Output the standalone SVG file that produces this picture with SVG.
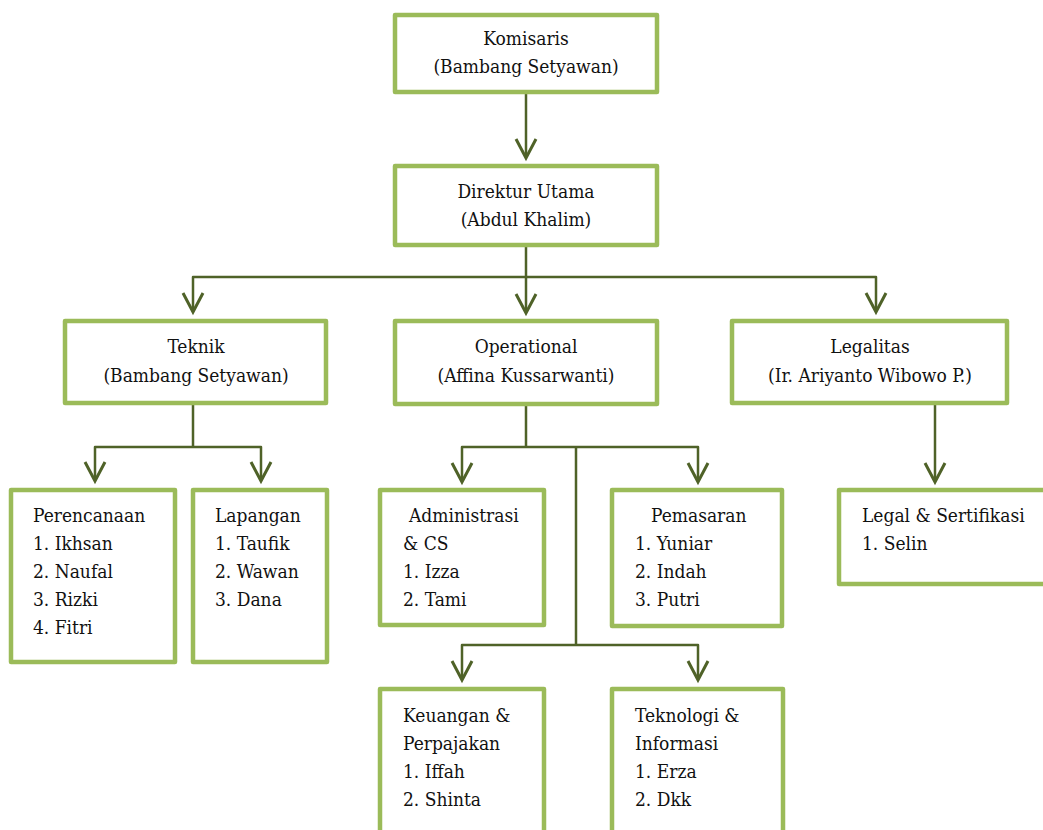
<svg xmlns="http://www.w3.org/2000/svg" width="1043" height="830" viewBox="0 0 1043 830">
<style>
.box{fill:#fff;stroke:#9BBB59;stroke-width:4.5;stroke-linejoin:round}
.con{fill:none;stroke:#4F6228;stroke-width:2.5;stroke-linejoin:round}
.ah{fill:none;stroke:#4F6228;stroke-width:3;stroke-linejoin:miter}
.c{text-anchor:middle}
.t{font-family:'DejaVu Serif Condensed','DejaVu Serif','Liberation Serif',serif;font-stretch:condensed;font-size:19px;fill:#111}
</style>
<rect width="1043" height="830" fill="#fff"/>
<g id="connectors">
<path class="con" d="M526,94V157"/>
<path class="con" d="M526,247V312"/>
<path class="con" d="M193,312V277H876V311"/>
<path class="con" d="M193,405V447M95,480V447H261V480"/>
<path class="con" d="M526,406V447M462,481V447H698V481M576,447V645M462,679V645H698V679"/>
<path class="con" d="M935,405V481"/>
<polyline class="ah" points="516,139 526,158 536,139"/>
<polyline class="ah" points="516,294 526,313 536,294"/>
<polyline class="ah" points="183,293 193,312 203,293"/>
<polyline class="ah" points="866,293 876,312 886,293"/>
<polyline class="ah" points="85,462 95,481 105,462"/>
<polyline class="ah" points="251,462 261,481 271,462"/>
<polyline class="ah" points="452,463 462,482 472,463"/>
<polyline class="ah" points="688,463 698,482 708,463"/>
<polyline class="ah" points="452,661 462,680 472,661"/>
<polyline class="ah" points="688,661 698,680 708,661"/>
<polyline class="ah" points="925,463 935,482 945,463"/>
</g>
<g class="t">
<g id="komisaris">
<rect class="box" x="395" y="15" width="262" height="77"/>
<text class="c" x="526" y="45">Komisaris</text>
<text class="c" x="526" y="73">(Bambang Setyawan)</text>
</g>
<g id="direktur">
<rect class="box" x="395" y="166" width="262" height="79"/>
<text class="c" x="526" y="198">Direktur Utama</text>
<text class="c" x="526" y="226">(Abdul Khalim)</text>
</g>
<g id="teknik">
<rect class="box" x="65" y="321" width="261" height="82"/>
<text class="c" x="196" y="353">Teknik</text>
<text class="c" x="196" y="382">(Bambang Setyawan)</text>
</g>
<g id="operational">
<rect class="box" x="395" y="321" width="262" height="83"/>
<text class="c" x="526" y="353">Operational</text>
<text class="c" x="526" y="382">(Affina Kussarwanti)</text>
</g>
<g id="legalitas">
<rect class="box" x="732" y="321" width="275" height="82"/>
<text class="c" x="870" y="353">Legalitas</text>
<text class="c" x="870" y="382">(Ir. Ariyanto Wibowo P.)</text>
</g>
<g id="perencanaan">
<rect class="box" x="11" y="490" width="164" height="172"/>
<text x="33" y="522">Perencanaan</text>
<text x="33" y="550">1. Ikhsan</text>
<text x="33" y="578">2. Naufal</text>
<text x="33" y="606">3. Rizki</text>
<text x="33" y="634">4. Fitri</text>
</g>
<g id="lapangan">
<rect class="box" x="193" y="490" width="134" height="172"/>
<text x="215" y="522">Lapangan</text>
<text x="215" y="550">1. Taufik</text>
<text x="215" y="578">2. Wawan</text>
<text x="215" y="606">3. Dana</text>
</g>
<g id="administrasi">
<rect class="box" x="380" y="490" width="164" height="135"/>
<text x="409" y="522">Administrasi</text>
<text x="403" y="550">&amp; CS</text>
<text x="403" y="578">1. Izza</text>
<text x="403" y="606">2. Tami</text>
</g>
<g id="pemasaran">
<rect class="box" x="612" y="490" width="170" height="136"/>
<text x="651" y="522">Pemasaran</text>
<text x="635" y="550">1. Yuniar</text>
<text x="635" y="578">2. Indah</text>
<text x="635" y="606">3. Putri</text>
</g>
<g id="legal">
<rect class="box" x="839" y="490" width="220" height="94"/>
<text x="862" y="522">Legal &amp; Sertifikasi</text>
<text x="862" y="550">1. Selin</text>
</g>
<g id="keuangan">
<rect class="box" x="380" y="689" width="164" height="170"/>
<text x="403" y="722">Keuangan &amp;</text>
<text x="403" y="750">Perpajakan</text>
<text x="403" y="778">1. Iffah</text>
<text x="403" y="806">2. Shinta</text>
</g>
<g id="teknologi">
<rect class="box" x="612" y="689" width="171" height="170"/>
<text x="635" y="722">Teknologi &amp;</text>
<text x="635" y="750">Informasi</text>
<text x="635" y="778">1. Erza</text>
<text x="635" y="806">2. Dkk</text>
</g>
</g>
</svg>
